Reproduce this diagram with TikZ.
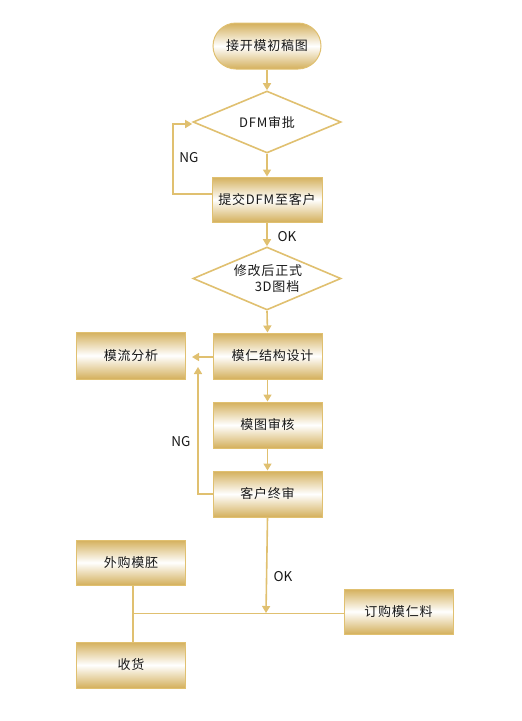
\documentclass[tikz,border=0pt]{standalone}
\usepackage{fontspec}
\setmainfont{Noto Sans CJK SC}
\usetikzlibrary{shapes.geometric,arrows.meta}
\definecolor{gold}{RGB}{212,176,92}
\definecolor{goldline}{RGB}{224,192,112}
\definecolor{txtc}{RGB}{25,25,25}
\begin{document}
\begin{tikzpicture}[x=1pt,y=-1pt,
  box/.style={rectangle,draw=goldline,line width=1pt,top color=gold,bottom color=gold,middle color=white,
    minimum width=109pt,minimum height=46pt,inner sep=0pt,font=\fontsize{13}{15}\selectfont\addfontfeature{LetterSpace=6},text=txtc},
  term/.style={box,rounded corners=23pt,minimum width=108pt},
  dia/.style={diamond,draw=goldline,line width=1.6pt,fill=white,minimum width=148pt,minimum height=62pt,inner sep=0pt},
  lbl/.style={font=\fontsize{13}{15}\selectfont\addfontfeature{LetterSpace=6},text=txtc,inner sep=0pt},
  side/.style={font=\fontsize{13.5}{15}\selectfont,text=txtc,inner sep=0pt},
  conn/.style={draw=goldline,line width=1.6pt},
  arr/.style={conn,-{Triangle[length=7pt,width=8pt]}},
]
\useasboundingbox (0,0) rectangle (522,721);
\node[term] (start) at (267,46) {接开模初稿图};
\node[dia] (d1) at (267,122) {};
\node[lbl] at (d1) {DFM审批};
\node[box,minimum width=110pt,minimum height=45pt] (sub) at (267,199.5) {提交DFM至客户};
\node[dia,minimum height=63pt] (d2) at (267,278.5) {};
\node[lbl] at (268,271) {修改后正式};
\node[lbl] at (277,287) {3D图档};
\node[box] (des) at (267.5,356) {\hspace{10pt}模仁结构设计};
\node[box,minimum height=47pt] (flow) at (131,355.5) {模流分析};
\node[box] (rev) at (267.5,425) {模图审核};
\node[box] (fin) at (267.5,494) {客户终审};
\node[box,minimum height=45pt] (buy) at (131,562.5) {外购模胚};
\node[box] (rec) at (131,665) {收货};
\node[box,minimum height=45pt] (ord) at (398.5,611.5) {订购模仁料};

\coordinate (ng1a) at (173,194);
\coordinate (ng1b) at (173,124);
\coordinate (ng2a) at (198,494);
\coordinate (ng2b) at (198,367);
\coordinate (flowtip) at (192,357);
\coordinate (okend) at (266,613);
\coordinate (hl) at (133,613);

\draw[arr] (start) -- (d1.north);
\draw[arr] (d1.south) -- (sub.north);
\draw[arr] (sub.west |- ng1a) -- (ng1a) -- (ng1b) -- (d1.west |- ng1b);
\node[side] at (189,158) {NG};
\draw[arr] (sub.south) -- (d2.north);
\node[side] at (287,237) {OK};
\draw[arr] (d2.south) -- (des.north);
\draw[arr] (des.west |- flowtip) -- (flowtip);
\draw[arr] (des.south) -- (rev.north);
\draw[arr] (rev.south) -- (fin.north);
\draw[arr] (fin.west) -- (ng2a) -- (ng2b);
\node[side] at (181,442) {NG};
\draw[arr] (fin.south) -- (okend);
\node[side] at (283,577) {OK};
\draw[draw=goldline,line width=1pt] (hl) -- (ord.west |- hl);
\draw[conn] (buy.south -| hl) -- (rec.north -| hl);
\end{tikzpicture}
\end{document}
